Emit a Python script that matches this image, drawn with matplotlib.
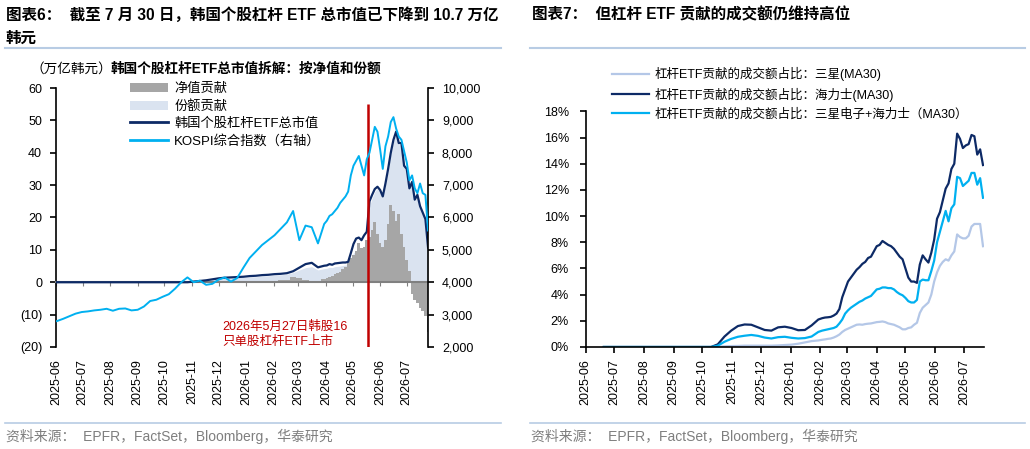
import matplotlib
matplotlib.use('Agg')
import matplotlib.pyplot as plt
import matplotlib.dates as mdates
import pandas as pd
from matplotlib.lines import Line2D
from matplotlib.patches import Patch
from matplotlib.ticker import FuncFormatter

plt.rcParams['font.family'] = ['Liberation Sans', 'Noto Sans CJK SC']
plt.rcParams['axes.unicode_minus'] = False

# ---- 图表6: 韩国个股杠杆ETF总市值 (万亿韩元) 与 KOSPI ----
left_dates = pd.date_range('2025-06-02', '2026-03-30', freq='7D').append(
    pd.date_range('2026-04-02', '2026-07-25', freq='3D'))

kospi = [2800, 2870, 2950, 3030, 3080, 3100, 3130, 3150, 3180, 3120,
         3180, 3190, 3130, 3150, 3250, 3420, 3460, 3550, 3630, 3800,
         4000, 4150, 4000, 4050, 3920, 3950, 4080, 4150, 4020, 4130,
         4450, 4750, 4950, 5150, 5300, 5450, 5650, 5850, 6200, 5300,
         5750, 5700, 5200, 5800,
         5900, 6050, 6100, 6200, 6300, 6450, 6550, 6650, 6800, 7300,
         7600, 7750, 7900, 7600, 7300, 7800, 8000, 8400, 8800, 8650,
         8100, 7500, 8200, 8500, 8950, 9100, 8750, 8500, 8400, 8050,
         7700, 7150, 7300, 6900, 6750, 7050, 6750, 6700, 5600]

etf_total = [0] * 22 + [
    0.2, 0.4, 0.6, 0.9, 1.2, 1.4, 1.5, 1.6, 1.7, 1.9,
    2.0, 2.2, 2.3, 2.5, 2.6, 2.8, 3.4, 4.5, 5.6, 6.0,
    4.6, 5.1,
    5.2, 5.6, 5.4, 5.8, 5.9, 6.0, 6.1, 6.1, 6.3, 9.0,
    11.8, 13.5, 13.8, 13.0, 14.5, 15.6, 25.0, 27.0, 28.8, 29.5,
    28.5, 26.5, 30.5, 35.0, 40.0, 44.0, 46.5, 43.0, 43.0, 36.0,
    35.0, 29.0, 31.0, 25.5, 27.0, 23.5, 21.5, 19.5, 10.7]

share_part = [0] * 22 + [
    0.1, 0.3, 0.5, 0.8, 1.0, 1.2, 1.3, 1.4, 1.5, 1.6,
    1.7, 1.9, 2.0, 2.2, 2.3, 2.5, 3.0, 3.8, 4.5, 4.8,
    3.8, 4.2,
    4.3, 4.6, 4.5, 4.8, 4.9, 5.0, 5.2, 5.3, 5.5, 7.5,
    9.0, 9.8, 10.2, 10.0, 11.0, 12.5, 23.5, 26.0, 28.0, 29.0,
    28.0, 26.0, 30.0, 34.5, 39.5, 43.5, 46.0, 42.5, 42.5, 35.5,
    34.5, 28.5, 30.5, 25.0, 26.5, 23.0, 21.0, 19.0, 10.5]

nav_part = [0] * 33 + [
    0.3, 0.5, 0.4, 0.6, 0.8, 1.5, 1.2, 0.8, 0.5, 0.3,
    1.0,
    1.3, 1.7, 2.0, 2.4, 2.8, 3.2, 4.0, 4.8, 6.0, 7.5,
    8.5, 9.5, 12.0, 10.5, 11.0, 13.0, 14.0, 16.0, 18.5, 15.0,
    12.0, 11.0, 13.0, 18.0, 24.0, 22.0, 19.0, 21.0, 15.0, 11.0,
    7.0, 3.5, -3.5, -5.5, -6.5, -8.0, -9.0, -10.5, -15.5]

launch_day = pd.Timestamp('2026-05-18')
launch_note = '2026年5月27日韩股16\n只单股杠杆ETF上市'

# ---- 图表7: 杠杆ETF贡献的成交额占比 (%) ----
right_dates = pd.date_range('2025-06-20', '2026-01-30', freq='7D').append(
    pd.date_range('2026-02-03', '2026-07-21', freq='3D'))

samsung = [0] * 17 + [
    0.02, 0.05, 0.07, 0.08, 0.1, 0.1, 0.1, 0.1, 0.1, 0.12,
    0.15, 0.18, 0.25, 0.35, 0.45, 0.5,
    0.55, 0.58, 0.62, 0.65, 0.72, 0.82, 0.95, 1.15, 1.3, 1.4,
    1.5, 1.6, 1.7, 1.72, 1.7, 1.75, 1.78, 1.8, 1.85, 1.9,
    1.92, 1.95, 1.9, 1.8, 1.75, 1.7, 1.6, 1.5, 1.35, 1.35,
    1.45, 1.5, 1.7, 1.85, 2.6, 3.0, 3.2, 3.4, 4.0, 5.0,
    5.7, 6.2, 6.5, 6.7, 6.6, 7.0, 7.3, 8.6, 8.4, 8.3,
    8.3, 8.5, 9.2, 9.4, 9.4, 9.4, 7.7]

hynix = [0] * 17 + [
    0.2, 0.8, 1.25, 1.6, 1.72, 1.7, 1.5, 1.3, 1.25, 1.5,
    1.55, 1.45, 1.28, 1.3, 1.65, 2.1,
    2.2, 2.25, 2.27, 2.3, 2.4, 2.55, 2.9, 3.8, 4.4, 5.0,
    5.3, 5.6, 5.9, 6.1, 6.35, 6.5, 6.8, 6.9, 7.3, 7.7,
    7.8, 8.1, 7.95, 7.8, 7.7, 7.5, 7.2, 6.9, 6.7, 6.0,
    5.3, 5.0, 5.0, 4.9, 6.3, 7.0, 6.7, 6.45, 7.2, 8.2,
    9.8, 10.3, 11.2, 12.1, 12.5, 13.6, 14.0, 16.3, 15.9, 15.2,
    15.4, 15.5, 16.2, 16.1, 14.7, 15.1, 13.9]

both = [0] * 17 + [
    0.1, 0.4, 0.62, 0.78, 0.86, 0.92, 0.85, 0.72, 0.65, 0.75,
    0.78, 0.7, 0.65, 0.68, 0.8, 1.15,
    1.25, 1.3, 1.35, 1.4, 1.45, 1.55, 1.8, 2.1, 2.55, 2.8,
    3.0, 3.15, 3.3, 3.45, 3.55, 3.7, 3.8, 3.9, 4.15, 4.4,
    4.45, 4.55, 4.55, 4.5, 4.5, 4.4, 4.2, 4.05, 3.95, 3.75,
    3.5, 3.4, 3.4, 3.6, 5.0, 5.15, 5.1, 5.1, 5.8, 6.6,
    8.0, 8.8, 9.6, 10.4, 9.6, 10.6, 10.9, 13.0, 12.9, 12.3,
    12.5, 12.7, 13.3, 13.3, 12.4, 12.9, 11.4]

NAVY = '#0D2A66'
SKY = '#00B0F0'
STEEL = '#B4C7E7'
GREY = '#A6A6A6'
PALE = '#DAE3F0'
RED = '#C00000'
RULE = '#B8CCE4'
TICK_FS = 9

fig = plt.figure(figsize=(10.3, 4.49), dpi=100)

# ---------------- 左图 ----------------
ax1 = fig.add_axes([0.0544, 0.2272, 0.3612, 0.5768])
ax1.fill_between(left_dates, 0, share_part, color=PALE, lw=0, zorder=1)
ax1.fill_between(left_dates, 0, nav_part, step='mid', color=GREY, lw=0, zorder=2)
ax1.plot(left_dates, etf_total, color=NAVY, lw=1.6, zorder=4)
ax1.vlines(launch_day, -20, 55, color=RED, lw=1.8, zorder=6)
ax1.text(0.446, 0.05, launch_note, transform=ax1.transAxes, color=RED,
         fontsize=9, ha='left', va='center', linespacing=1.35)

ax1.set_xlim(pd.Timestamp('2025-06-01'), pd.Timestamp('2026-07-25'))
ax1.set_ylim(-20, 60)
ax1.set_yticks(range(-20, 61, 10))
ax1.yaxis.set_major_formatter(FuncFormatter(
    lambda v, p: f'({abs(v):.0f})' if v < 0 else f'{v:.0f}'))
ax1.tick_params(axis='y', labelsize=TICK_FS, length=4, pad=6, width=1.2)
for s in ['top', 'right']:
    ax1.spines[s].set_visible(False)
ax1.spines['left'].set_linewidth(1.2)
ax1.spines['bottom'].set_position(('data', 0))
ax1.spines['bottom'].set_color('#808080')
ax1.spines['bottom'].set_linewidth(1.5)
ax1.spines['bottom'].set_zorder(3)
ax1.xaxis.set_major_locator(mdates.MonthLocator())
ax1.tick_params(axis='x', colors='#808080', length=3, labelbottom=False)

sec = ax1.secondary_xaxis('bottom')
sec.xaxis.set_major_locator(mdates.MonthLocator())
sec.xaxis.set_major_formatter(mdates.DateFormatter('%Y-%m'))
sec.tick_params(length=0, labelsize=TICK_FS, pad=9, labelrotation=90)
sec.spines['bottom'].set_visible(False)

axr = ax1.twinx()
axr.plot(left_dates, kospi, color=SKY, lw=1.4, zorder=5)
axr.set_ylim(2000, 10000)
axr.set_yticks(range(2000, 10001, 1000))
axr.yaxis.set_major_formatter(FuncFormatter(lambda v, p: f'{v:,.0f}'))
axr.tick_params(axis='y', labelsize=TICK_FS, length=4, pad=6, width=1.2)
for s in ['top', 'left', 'bottom']:
    axr.spines[s].set_visible(False)
axr.spines['right'].set_linewidth(1.2)

left_handles = [Patch(facecolor=GREY, edgecolor='none'),
                Patch(facecolor=PALE, edgecolor='none'),
                Line2D([], [], color=NAVY, lw=2),
                Line2D([], [], color=SKY, lw=2)]
left_labels = ['净值贡献', '份额贡献', '韩国个股杠杆ETF总市值', 'KOSPI综合指数（右轴）']
fig.legend(left_handles, left_labels, loc='upper left', bbox_to_anchor=(0.1262, 0.815),
           frameon=False, borderpad=0, borderaxespad=0, fontsize=9.5,
           handlelength=2.9, handletextpad=0.45, labelspacing=0.36)

# ---------------- 右图 ----------------
ax2 = fig.add_axes([0.5686, 0.2272, 0.3867, 0.5247])
ax2.plot(right_dates, samsung, color=STEEL, lw=1.6, label='杠杆ETF贡献的成交额占比：三星(MA30)')
ax2.plot(right_dates, hynix, color=NAVY, lw=1.6, label='杠杆ETF贡献的成交额占比：海力士(MA30)')
ax2.plot(right_dates, both, color=SKY, lw=1.6, label='杠杆ETF贡献的成交额占比：三星电子+海力士（MA30）')
ax2.set_xlim(pd.Timestamp('2025-06-01'), pd.Timestamp('2026-07-22'))
ax2.set_ylim(0, 18)
ax2.set_yticks(range(0, 19, 2))
ax2.yaxis.set_major_formatter(FuncFormatter(lambda v, p: f'{v:.0f}%'))
ax2.xaxis.set_major_locator(mdates.MonthLocator())
ax2.xaxis.set_major_formatter(mdates.DateFormatter('%Y-%m'))
ax2.tick_params(axis='x', labelsize=TICK_FS, labelrotation=90, length=4, pad=5, width=1.2)
ax2.tick_params(axis='y', labelsize=TICK_FS, length=4, pad=8, width=1.2)
for s in ['top', 'right']:
    ax2.spines[s].set_visible(False)
for s in ['left', 'bottom']:
    ax2.spines[s].set_linewidth(1.2)
fig.legend(*ax2.get_legend_handles_labels(), loc='upper left', bbox_to_anchor=(0.594, 0.85),
           frameon=False, borderpad=0, borderaxespad=0, fontsize=9,
           handlelength=3.0, handletextpad=0.4, labelspacing=0.5)

# ---------------- 标题、分隔线、来源 ----------------
fig.text(0.0058, 0.9666, '图表6：  截至 7 月 30 日，韩国个股杠杆 ETF 总市值已下降到 10.7 万亿',
         fontsize=11.2, fontweight='bold', ha='left', va='center')
fig.text(0.0058, 0.9154, '韩元', fontsize=11.2, fontweight='bold', ha='left', va='center')
fig.text(0.5165, 0.9666, '图表7：  但杠杆 ETF 贡献的成交额仍维持高位',
         fontsize=11.2, fontweight='bold', ha='left', va='center')
fig.text(0.030, 0.8463, '（万亿韩元）', fontsize=9.8, ha='left', va='center')
fig.text(0.1075, 0.8463, '韩国个股杠杆ETF总市值拆解：按净值和份额', fontsize=9.8,
         fontweight='bold', ha='left', va='center')

for x0, x1 in [(0.005, 0.486), (0.515, 0.995)]:
    fig.add_artist(Line2D([x0, x1], [0.893, 0.893], transform=fig.transFigure, color=RULE, lw=1.5))
    fig.add_artist(Line2D([x0, x1], [0.0573, 0.0573], transform=fig.transFigure, color=RULE, lw=1.2))

src = '资料来源：  EPFR，FactSet，Bloomberg，华泰研究'
fig.text(0.0058, 0.029, src, fontsize=10, color='#7F7F7F', ha='left', va='center')
fig.text(0.5155, 0.029, src, fontsize=10, color='#7F7F7F', ha='left', va='center')

fig.savefig('out.png', dpi=100)
